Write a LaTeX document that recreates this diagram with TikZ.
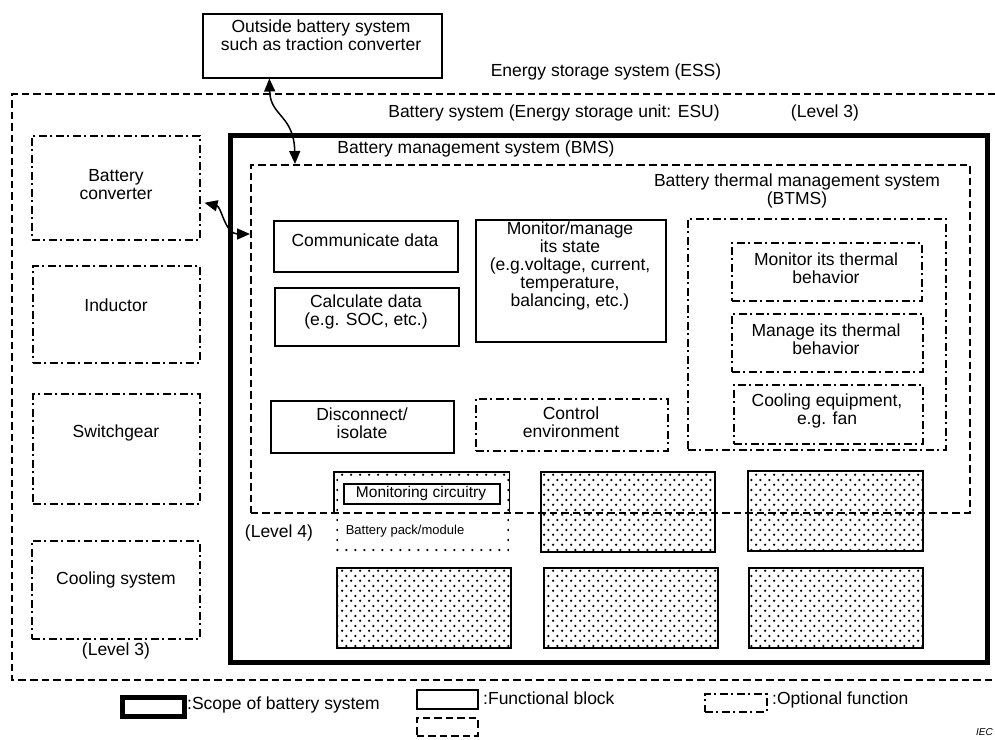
\documentclass[tikz,border=0pt]{standalone}
\usepackage{fontspec}
\setmainfont{Liberation Sans}
\usetikzlibrary{arrows.meta,patterns.meta,calc}

% staggered dot fill used for the battery packs/modules
\tikzdeclarepattern{
  name=packdots,
  type=uncolored,
  bounding box={(0pt,0pt) and (9.2pt,9.6pt)},
  tile size={(9.2pt,9.6pt)},
  code={
    \pgfpathcircle{\pgfpoint{2.3pt}{2.4pt}}{1.35pt}
    \pgfpathcircle{\pgfpoint{6.9pt}{7.2pt}}{1.35pt}
    \pgfusepath{fill}
  }
}

\begin{document}
\begin{tikzpicture}[x=1pt,y=-1pt,
  blk/.style={draw, line width=1.5pt, inner sep=0pt, anchor=north west},
  scopebox/.style={draw, line width=4.6pt, inner sep=0pt, anchor=north west},
  dashblk/.style={draw, line width=1.5pt, dash pattern=on 7.5pt off 4pt, inner sep=0pt, anchor=north west},
  optblk/.style={draw, line width=1.5pt, dash pattern=on 8pt off 3.5pt on 2pt off 3.5pt, inner sep=0pt, anchor=north west},
  packblk/.style={draw, line width=1.5pt, pattern=packdots, inner sep=0pt, anchor=north west},
  txt/.style={align=center, inner sep=0pt, font=\fontsize{17.5}{18}\selectfont},
  conn/.style={line width=1.5pt, {Triangle[length=13pt,width=11pt]}-{Triangle[length=13pt,width=11pt]}},
  ]
\useasboundingbox (0,0) rectangle (995,739);

% energy storage system (open to the right)
\coordinate (essTR) at (995,94);
\coordinate (essTL) at (12,94);
\coordinate (essBL) at (12,680);
\coordinate (essBR) at (995,680);
\draw[line width=1.5pt, dash pattern=on 7.5pt off 4pt] (essTR) -- (essTL) -- (essBL) -- (essBR);

% outside system
\node[blk, minimum width=239pt, minimum height=64pt] (outside) at (202,13) {};
\node[txt] (outsideT) at (321,35) {Outside battery system\\such as traction converter};

\node[txt] (essT) at (606,72) {Energy storage system (ESS)};
\node[txt] (esuT) at (554,113) {Battery system (Energy storage unit: ESU)};
\node[txt] (lvl3a) at (825,113) {(Level 3)};

% battery system scope
\node[scopebox, minimum width=757pt, minimum height=527pt] (bsys) at (228,133) {};
\node[txt] (bmsT) at (476,149) {Battery management system (BMS)};

% left column: optional equipment
\node[optblk, minimum width=168pt, minimum height=104pt] (batconv) at (31,135) {};
\node[txt] (batconvT) at (116,185) {Battery\\converter};
\node[optblk, minimum width=167pt, minimum height=97pt] (induct) at (32,265) {};
\node[txt] (inductT) at (116,305) {Inductor};
\node[optblk, minimum width=167pt, minimum height=110pt] (switch) at (32,393) {};
\node[txt] (switchT) at (116,433) {Switchgear};
\node[optblk, minimum width=168pt, minimum height=98pt] (coolsys) at (31,540) {};
\node[txt] (coolsysT) at (116,580) {Cooling system};
\node[txt] (lvl3b) at (116,651) {(Level 3)};

% battery packs / modules
\node[packblk, draw=none, minimum width=174pt, minimum height=79pt] (pack1) at (334,472) {};
\fill[white] ($(pack1.north west)+(4,4)$) rectangle ($(pack1.south east)+(-4,-4)$);
\draw[line width=1.5pt] ($(pack1.north west)+(0,40)$) -- (pack1.north west) -- (pack1.north east) -- ($(pack1.north east)+(0,40)$);
\node[blk, fill=white, minimum width=156pt, minimum height=20pt] (monc) at (343,483) {};
\node[txt, font=\fontsize{15.5}{17}\selectfont] (moncT) at (421,493) {Monitoring circuitry};
\node[txt, font=\fontsize{13}{15}\selectfont] (bpmT) at (405,531) {Battery pack/module};

\node[packblk, minimum width=174pt, minimum height=80pt] (pack2) at (540,471) {};
\node[packblk, minimum width=175pt, minimum height=80pt] (pack3) at (747,470) {};
\node[packblk, minimum width=174pt, minimum height=80pt] (pack4) at (336,567) {};
\node[packblk, minimum width=174pt, minimum height=80pt] (pack5) at (543,567) {};
\node[packblk, minimum width=174pt, minimum height=80pt] (pack6) at (748,567) {};
\node[txt] (lvl4) at (279,533) {(Level 4)};

% battery management system
\node[dashblk, minimum width=719pt, minimum height=348pt] (bms) at (250,164) {};

\node[blk, minimum width=184pt, minimum height=51pt] (comm) at (273,220) {};
\node[txt] (commT) at (365,240) {Communicate data};
\node[blk, minimum width=184pt, minimum height=58pt] (calc) at (274,287) {};
\node[txt] (calcT) at (366,312) {Calculate data\\(e.g. SOC, etc.)};
\node[blk, minimum width=190pt, minimum height=122pt] (monit) at (475,219) {};
\node[txt] (monitT) at (570,266) {Monitor/manage\\its state\\(e.g.voltage, current,\\temperature,\\balancing, etc.)};
\node[blk, minimum width=183pt, minimum height=52pt] (disc) at (270,400) {};
\node[txt] (discT) at (362,423) {Disconnect/\\isolate};
\node[optblk, minimum width=192pt, minimum height=52pt] (ctrl) at (475,398) {};
\node[txt] (ctrlT) at (571,422) {Control\\environment};

% battery thermal management system
\node[txt] (btmsT) at (797,191) {Battery thermal management system\\(BTMS)};
\node[optblk, minimum width=258pt, minimum height=231pt] (btms) at (687,218) {};
\node[optblk, minimum width=190pt, minimum height=58pt] (mtherm) at (731,242) {};
\node[txt] (mthermT) at (826,268) {Monitor its thermal\\behavior};
\node[optblk, minimum width=191pt, minimum height=58pt] (gtherm) at (731,313) {};
\node[txt] (gthermT) at (826,339) {Manage its thermal\\behavior};
\node[optblk, minimum width=189pt, minimum height=59pt] (cooleq) at (733,384) {};
\node[txt] (cooleqT) at (827,411) {Cooling equipment,\\e.g. fan};

% connectors
\coordinate (outA) at ($(outside.south west)!0.28!(outside.south east)$);
\coordinate (bmsA) at ($(bms.north west)+(45,0)$);
\draw[conn] (outA) .. controls ($(outA)+(1,38)$) and ($(bmsA)+(-1,-49)$) .. (bmsA);
\coordinate (convA) at ($(batconv.east)+(4,15)$);
\coordinate (bmsB) at ($(bms.north west)+(0,70)$);
\draw[conn] (convA) .. controls ($(convA)+(17,4)$) and ($(bmsB)+(-25,0)$) .. (bmsB);

% legend
\node[scopebox, minimum width=62pt, minimum height=19pt] (legScope) at (120,695) {};
\node[txt, anchor=west] (legScopeT) at (187,705) {:Scope of battery system};
\node[blk, minimum width=61pt, minimum height=19pt] (legFunc) at (416,689) {};
\node[dashblk, minimum width=61pt, minimum height=18pt] (legFunc2) at (416,717) {};
\node[txt, anchor=west] (legFuncT) at (483,698) {:Functional block};
\node[optblk, minimum width=62pt, minimum height=18pt] (legOpt) at (704,693) {};
\node[txt, anchor=west] (legOptT) at (772,700) {:Optional function};
\node[txt, anchor=east, font=\fontsize{10}{12}\selectfont\itshape] (iec) at (993,732) {IEC};
\end{tikzpicture}
\end{document}
